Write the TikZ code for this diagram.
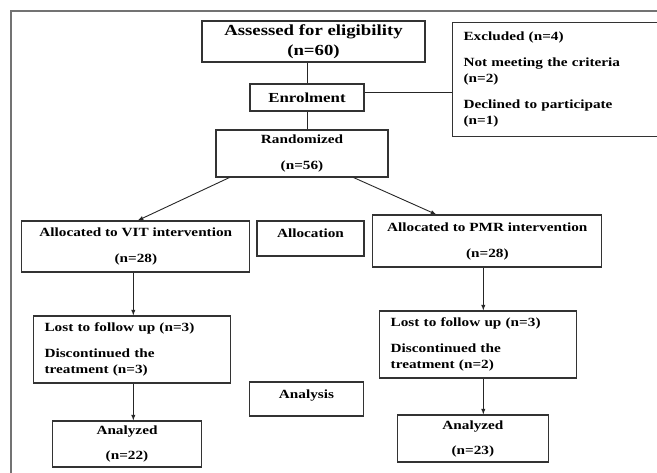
\documentclass[tikz,border=0pt]{standalone}
\usepackage{fontspec}
\setmainfont{Liberation Serif}[FakeStretch=1.22]
\begin{document}
\begin{tikzpicture}[x=1pt,y=-1pt,
    caja/.style={draw=black!80, line width=1.1pt, inner sep=0pt, align=center,
      font=\bfseries\fontsize{12.5}{16}\selectfont},
    cajaizq/.style={caja, align=left, inner xsep=11pt},
    flecha/.style={-latex, line width=0.9pt, black!85}]
  % Marco de la figura
  \useasboundingbox (0,0) rectangle (657,473);
  \clip (0,0) rectangle (657,473);
  \draw[black!55, line width=1.4pt] (11,500) |- (690,11);

  % Inscripcion
  \node[caja, minimum width=223pt, minimum height=41pt,
    font=\bfseries\fontsize{15.4}{18}\selectfont] (evaluados) at (313.5,41.5)
    {Assessed for eligibility\\[2pt](n=60)};
  \node[cajaizq, text width=218pt, minimum height=114pt, anchor=north west] (excluidos) at (452,21.7)
    {Excluded (n=4)\\[10pt]Not meeting the criteria\\(n=2)\\[10pt]Declined to participate\\(n=1)};
  \node[caja, minimum width=114pt, minimum height=27pt,
    font=\bfseries\fontsize{13.8}{16}\selectfont] (enrol) at (307,97.5) {Enrolment};
  \node[caja, minimum width=172pt, minimum height=47pt] (random) at (302,153.5)
    {Randomized\\[10pt](n=56)};

  % Asignacion
  \node[caja, minimum width=228pt, minimum height=51pt] (vit) at (135.8,246.5)
    {Allocated to VIT intervention\\[10pt](n=28)};
  \node[caja, minimum width=107pt, minimum height=35pt, text depth=10pt] (asig) at (310.5,238.5)
    {Allocation};
  \node[caja, minimum width=229pt, minimum height=52pt] (pmr) at (487.3,241)
    {Allocated to PMR intervention\\[10pt](n=28)};

  % Seguimiento
  \node[cajaizq, text width=174.5pt, minimum height=67pt] (perdidosA) at (131.8,349.5)
    {Lost to follow up (n=3)\\[10pt]Discontinued the\\treatment (n=3)};
  \node[cajaizq, text width=175pt, minimum height=67pt] (perdidosB) at (478.2,344.5)
    {Lost to follow up (n=3)\\[10pt]Discontinued the\\treatment (n=2)};

  % Analisis
  \node[caja, minimum width=113.5pt, minimum height=34pt, text depth=10pt] (analisis) at (306.5,399)
    {Analysis};
  \node[caja, minimum width=149.4pt, minimum height=46pt] (analizadosA) at (127,444)
    {Analyzed\\[9pt](n=22)};
  \node[caja, minimum width=150.6pt, minimum height=47pt] (analizadosB) at (472.9,438.5)
    {Analyzed\\[9pt](n=23)};

  % Lineas que unen las cajas
  \draw[line width=0.9pt, black!85] (enrol.north |- evaluados.south) -- (enrol.north);
  \draw[line width=0.9pt, black!85] (enrol.south) -- (enrol.south |- random.north);
  \coordinate (union) at ([yshift=5.5pt]enrol.east);
  \draw[line width=0.9pt, black!85] (union) -- (union -| excluidos.west);

  % Flechas
  \draw[flecha] ([xshift=14pt]random.south west) -- ([xshift=2pt]vit.north);
  \draw[flecha] ([xshift=-35pt]random.south east) -- ([xshift=64pt]pmr.north west);
  \draw[flecha] ([xshift=-2.5pt]vit.south) -- ([xshift=-2.5pt]vit.south |- perdidosA.north);
  \draw[flecha] ([xshift=-2.5pt]vit.south |- perdidosA.south) -- ([xshift=-2.5pt]vit.south |- analizadosA.north);
  \draw[flecha] ([xshift=-4pt]pmr.south) -- ([xshift=-4pt]pmr.south |- perdidosB.north);
  \draw[flecha] ([xshift=-4pt]pmr.south |- perdidosB.south) -- ([xshift=-4pt]pmr.south |- analizadosB.north);
\end{tikzpicture}
\end{document}
